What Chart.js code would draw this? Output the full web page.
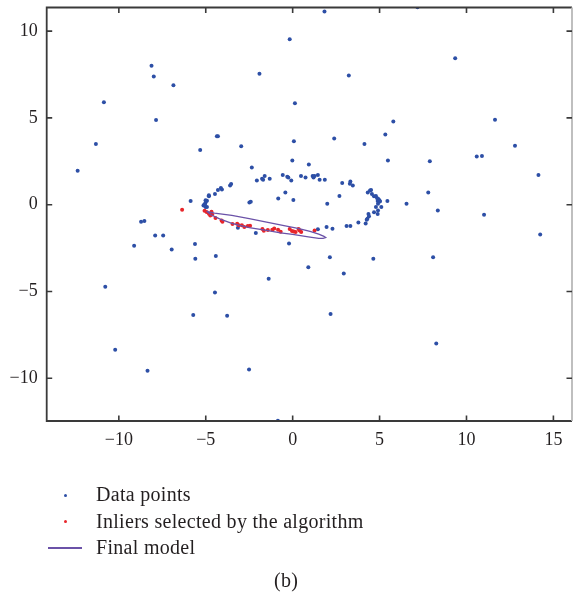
<!DOCTYPE html>
<html>
<head>
<meta charset="utf-8">
<script src="https://cdn.jsdelivr.net/npm/chart.js@4.4.0/dist/chart.umd.min.js"></script>
<style>
  html, body { margin: 0; padding: 0; background: #ffffff; }
  #wrap { position: relative; width: 576px; height: 597px; overflow: hidden; }
  #c { position: absolute; left: 0; top: 0; }
  .lg { position: absolute; font-family: "Liberation Serif", "DejaVu Serif", serif; font-size: 20px; letter-spacing: 0.3px; color: #231f20; white-space: nowrap; line-height: 1; }
  .dot { position: absolute; width: 3px; height: 3px; border-radius: 50%; }
  .ln { position: absolute; height: 1.5px; background: #6b52a8; }
</style>
</head>
<body>
<div id="wrap">
  <canvas id="c" width="576" height="597"></canvas>
  <div class="dot" style="left:63.5px;top:493.5px;background:#2d4fa6"></div>
  <div class="lg" style="left:96px;top:484px">Data points</div>
  <div class="dot" style="left:63.5px;top:520px;background:#e8262b"></div>
  <div class="lg" style="left:96px;top:510.5px">Inliers selected by the algorithm</div>
  <div class="ln" style="left:48px;top:547px;width:34px"></div>
  <div class="lg" style="left:96px;top:537px">Final model</div>
  <div class="lg" style="left:274px;top:570px">(b)</div>
</div>
<script>
// ---- Data ----
const xTicks = [-10, -5, 0, 5, 10, 15];
const yTicks = [-10, -5, 0, 5, 10];

const dataX = [
  -0.17, -8.12, -7.99, -6.86, -1.91, -10.86, 0.13, -7.86, -11.32, -12.37, -5.32, -4.36, -4.30, -2.96, 0.07, -2.35, -0.02,
  1.83, 7.18, 9.35, 3.23, 5.79, 11.64, 5.33, 2.39, 4.13, 12.79, 10.59, 10.89, 5.48, 7.89, 0.93, 14.14,
  7.80, 8.35, 11.01, 6.55, 14.24,
  -0.21, 2.14, 4.64, 8.08, 0.90, 2.94, 2.18, 8.26, -0.85,
  -8.72, -8.53, -7.91, -7.45, -9.12, -6.96, -5.62, -5.60, -4.42, -3.15, -2.12, -1.38, -10.78, -4.47, -5.72, -3.77, -10.21, -8.35, -2.51, -5.87,
  -2.06, -1.76, -1.70, -1.61, -1.32, -0.57, -0.31, -0.25, -0.08, 0.48, 0.74, 1.15, 1.20, 1.26, 1.45, 1.55, 1.85, 2.85, 3.32, 3.29, 3.46,
  -0.42, -0.83, 0.04, -2.49, -2.41, 1.99, 2.69, 5.45,
  -3.60, -3.54, -4.13, -4.07, -4.30, -4.47, -4.82, -4.82, -4.93, -5.01, -5.09, -5.01, -5.05, -5.13, -5.01, -4.93,
  4.32, 4.45, 4.51, 4.56, 4.68, 4.79, 4.85, 4.93, 5.00, 4.89, 4.99, 5.02, 4.91, 5.10, 4.79, 4.91, 4.89, 4.68, 4.36, 4.39, 4.30, 4.26, 4.20, 3.78, 3.32, 3.10, 2.29, 1.95, 1.45
];
const dataY = [
  9.53, 8.00, 7.38, 6.88, 7.54, 5.90, 5.84, 4.88, 3.50, 1.96, 3.15, 3.94, 3.94, 3.36, 3.65, 2.15, 2.55,
  11.13, 11.38, 8.44, 7.44, 4.80, 4.90, 4.05, 3.81, 3.50, 3.40, 2.77, 2.81, 2.55, 2.50, 2.31, 1.71,
  0.71, -0.33, -0.58, 0.06, -1.71,
  -2.23, -3.02, -3.11, -3.02, -3.61, -3.96, -6.30, -8.00, -12.44,
  -0.98, -0.94, -1.77, -1.77, -2.36, -2.58, -2.27, -3.11, -2.96, -1.33, -1.63, -4.27, -4.73, -5.06, -6.36, -6.40, -8.36, -9.56, -9.50, 0.21,
  1.40, 1.50, 1.44, 1.65, 1.50, 1.71, 1.61, 1.56, 1.40, 1.65, 1.56, 1.65, 1.56, 1.65, 1.71, 1.44, 1.44, 1.25, 1.34, 1.21, 1.10,
  0.71, 0.36, 0.27, 0.13, 0.17, 0.06, 0.50, 0.21,
  1.11, 1.19, 0.96, 0.87, 0.85, 0.62, 0.54, 0.48, 0.23, 0.12, 0.00, 0.25, 0.02, -0.04, -0.13, -0.13,
  0.71, 0.82, 0.85, 0.62, 0.48, 0.50, 0.39, 0.33, 0.21, 0.21, 0.25, 0.19, 0.06, -0.13, -0.13, -0.33, -0.54, -0.44, -0.54, -0.67, -0.81, -0.87, -1.08, -1.02, -1.23, -1.23, -1.38, -1.29, -1.42
];

const inlierX = [
  -6.36, -5.07, -4.95, -4.82, -4.67, -4.63, -4.74, -4.44, -4.09, -4.04, -3.46, -3.19, -3.10, -2.92, -2.78, -2.58, -2.45,
  -1.74, -1.66, -1.43, -1.17, -1.06, -0.84, -0.69, -0.17, -0.04, 0.06, 0.17, 0.34, 0.40, 0.49, 1.26
];
const inlierY = [
  -0.29, -0.35, -0.42, -0.52, -0.40, -0.56, -0.62, -0.77, -0.91, -0.98, -1.11, -1.10, -1.19, -1.19, -1.29, -1.23, -1.21,
  -1.40, -1.50, -1.46, -1.44, -1.37, -1.44, -1.56, -1.40, -1.52, -1.54, -1.57, -1.40, -1.48, -1.57, -1.48
];

// Outline of the final (elliptical) model
const modelX = [-4.95, -4.5, -3.5, -2.5, -1.5, -0.5, 0.3, 1.0, 1.5, 1.8, 1.9, 1.75, 1.5, 0.9, 0.0, -0.7, -1.5, -2.5, -3.5, -4.2, -4.7, -4.95];
const modelY = [-0.38, -0.48, -0.62, -0.80, -1.00, -1.20, -1.36, -1.54, -1.70, -1.82, -1.89, -1.94, -1.94, -1.85, -1.71, -1.62, -1.48, -1.32, -1.08, -0.82, -0.58, -0.38];

// ---- Build library structures ----
const zip = (xs, ys) => xs.map((v, i) => ({ x: v, y: ys[i] }));
const minus = v => (v < 0 ? '\u2212' + Math.abs(v) : String(v));

const framePlugin = {
  id: 'frame',
  afterDraw(chart) {
    const { ctx, chartArea: a, scales } = chart;
    ctx.save();
    ctx.strokeStyle = '#3a3a3a';
    ctx.lineWidth = 1.8;
    ctx.beginPath();
    ctx.moveTo(a.right, a.top); ctx.lineTo(a.left, a.top); ctx.lineTo(a.left, a.bottom); ctx.lineTo(a.right, a.bottom);
    ctx.stroke();
    ctx.strokeStyle = '#b8b8b8';
    ctx.beginPath(); ctx.moveTo(a.right, a.top); ctx.lineTo(a.right, a.bottom); ctx.stroke();
    ctx.strokeStyle = '#3a3a3a';
    ctx.lineWidth = 1.6;
    const tl = 5.5;
    ctx.beginPath();
    scales.x.ticks.forEach(t => {
      const p = scales.x.getPixelForValue(t.value);
      ctx.moveTo(p, a.bottom); ctx.lineTo(p, a.bottom - tl);
      ctx.moveTo(p, a.top); ctx.lineTo(p, a.top + tl);
    });
    scales.y.ticks.forEach(t => {
      const p = scales.y.getPixelForValue(t.value);
      ctx.moveTo(a.left, p); ctx.lineTo(a.left + tl, p);
      ctx.moveTo(a.right, p); ctx.lineTo(a.right - tl, p);
    });
    ctx.stroke();
    ctx.restore();
  }
};

const tickFont = { family: '"Liberation Serif", "DejaVu Serif", serif', size: 18 };

new Chart(document.getElementById('c'), {
  type: 'scatter',
  data: {
    datasets: [
      { label: 'Final model', data: zip(modelX, modelY), showLine: true, borderColor: '#6b52a8', borderWidth: 1.3, pointRadius: 0, fill: false, tension: 0 },
      { label: 'Inliers selected by the algorithm', data: zip(inlierX, inlierY), backgroundColor: '#e8262b', borderWidth: 0, pointRadius: 2 },
      { label: 'Data points', data: zip(dataX, dataY), backgroundColor: '#2d4fa6', borderWidth: 0, pointRadius: 2 }
    ]
  },
  options: {
    responsive: false,
    animation: false,
    devicePixelRatio: 1,
    layout: { padding: { left: 0, right: 0.5, top: 7.5, bottom: 0 } },
    plugins: { legend: { display: false }, tooltip: { enabled: false } },
    scales: {
      x: {
        type: 'linear', min: -14.15, max: 16.07,
        grid: { display: false, drawTicks: false },
        border: { display: false },
        afterBuildTicks: s => { s.ticks = xTicks.map(v => ({ value: v })); },
        afterFit: s => { s.height = 176; s.paddingLeft = 0; s.paddingRight = 0; },
        ticks: { font: tickFont, color: '#231f20', padding: 8.5, maxRotation: 0, callback: v => minus(v) }
      },
      y: {
        type: 'linear', min: -12.46, max: 11.36,
        grid: { display: false, drawTicks: false },
        border: { display: false },
        afterBuildTicks: s => { s.ticks = yTicks.map(v => ({ value: v })); },
        afterFit: s => { s.width = 46.7; s.paddingTop = 0; s.paddingBottom = 0; },
        ticks: { font: tickFont, color: '#231f20', padding: 9, callback: v => minus(v) }
      }
    }
  },
  plugins: [framePlugin]
});
</script>
</body>
</html>
